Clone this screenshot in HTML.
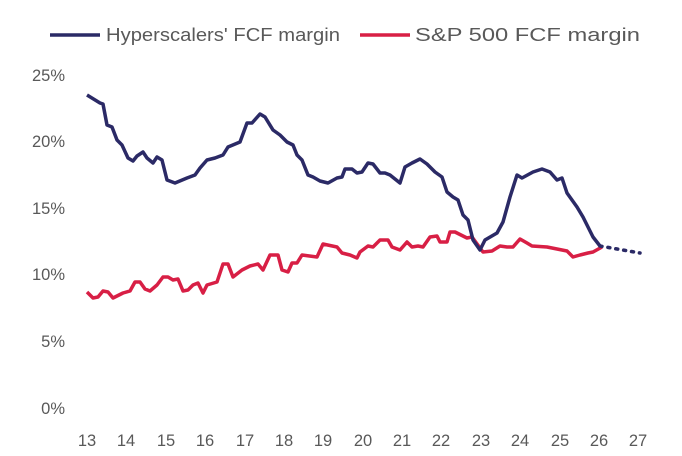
<!DOCTYPE html>
<html><head><meta charset="utf-8"><style>
html,body{margin:0;padding:0;background:#fff;width:682px;height:456px;overflow:hidden}
svg{display:block}
text{font-family:"Liberation Sans",sans-serif;fill:#595959}
</style></head><body>
<svg width="682" height="456" viewBox="0 0 682 456">
<line x1="50" y1="35" x2="100" y2="35" stroke="#2b2a66" stroke-width="3.5"/>
<text x="106" y="41" font-size="18" textLength="234" lengthAdjust="spacingAndGlyphs">Hyperscalers' FCF margin</text>
<line x1="360" y1="35" x2="410" y2="35" stroke="#d81f45" stroke-width="3.5"/>
<text x="415" y="41" font-size="18" textLength="225" lengthAdjust="spacingAndGlyphs">S&amp;P 500 FCF margin</text>
<g font-size="16.5" text-anchor="end">
<text x="65" y="81">25%</text>
<text x="65" y="147">20%</text>
<text x="65" y="214">15%</text>
<text x="65" y="280">10%</text>
<text x="65" y="347">5%</text>
<text x="65" y="414">0%</text>
</g>
<g font-size="16.5" text-anchor="middle">
<text x="87" y="446">13</text><text x="126" y="446">14</text><text x="166" y="446">15</text><text x="205" y="446">16</text><text x="245" y="446">17</text><text x="284" y="446">18</text><text x="323" y="446">19</text><text x="363" y="446">20</text><text x="402" y="446">21</text><text x="441" y="446">22</text><text x="481" y="446">23</text><text x="520" y="446">24</text><text x="560" y="446">25</text><text x="599" y="446">26</text><text x="638" y="446">27</text>
</g>
<polyline fill="none" stroke="#d81f45" stroke-width="3.5" stroke-linejoin="round" points="87,292 93,298 98,297 103,291 108,292 113,298 123,293 130,291 135,282 140,282 145,289 150,291 157,285 163,277 168,277 173,280 178,279 183,291 188,290 193,285 198,283 203,293 207,285 217,282 223,264 228,264 233,277 242,270 250,266 258,264 263,270 270,255 278,255 282,270 288,272 292,263 297,263 302,255 317,257 323,244 337,247 342,253 350,255 357,258 360,252 368,246 373,247 380,240 388,240 392,247 400,250 407,242 412,247 418,246 423,247 430,237 437,236 440,242 447,242 450,232 455,232 467,238 472,237 483,252 492,251 500,246 507,247 513,247 520,239 527,243 532,246 547,247 567,251 573,257 580,255 588,253 593,252 602,247"/>
<polyline fill="none" stroke="#2b2a66" stroke-width="3.5" stroke-linejoin="round" points="87,95 100,103 103,104 107,125 112,127 117,140 122,145 128,158 133,161 137,156 143,152 147,158 153,163 157,157 162,160 167,180 175,183 187,178 195,175 200,168 207,160 215,158 223,155 228,147 240,142 247,123 252,123 260,114 265,117 273,130 280,135 287,142 293,145 297,155 302,160 308,175 313,177 320,181 328,183 337,178 342,177 345,169 352,169 357,173 362,172 368,163 373,164 380,173 385,173 390,175 400,183 405,167 412,163 420,159 427,164 435,172 442,177 447,192 453,197 458,200 463,215 468,220 473,240 480,250 485,240 497,233 503,222 510,197 517,175 522,178 533,172 542,169 550,172 557,180 562,178 567,193 577,207 583,217 593,237 600,246"/>
<line x1="600" y1="246" x2="640" y2="253" stroke="#2b2a66" stroke-width="3.5" stroke-dasharray="2,6" stroke-linecap="round"/>
</svg>
</body></html>
